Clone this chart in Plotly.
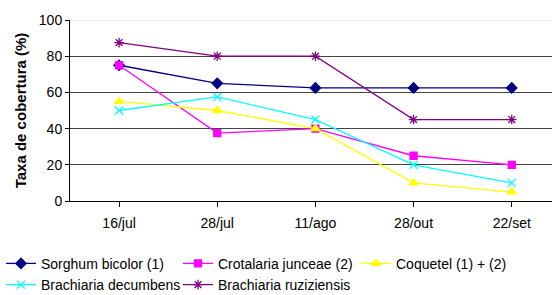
import plotly.graph_objects as go

categories = ["16/jul", "28/jul", "11/ago", "28/out", "22/set"]
sorghum = [75, 65, 62.5, 62.5, 62.5]
crotalaria = [75, 37.5, 40, 25, 20]
coquetel = [55, 50, 40, 10, 5]
decumbens = [50, 57.5, 45, 20, 10]
ruziziensis = [87.5, 80, 80, 45, 45]

series = [
    ("Sorghum bicolor (1)", sorghum, "#000080", "diamond", 8, "legend"),
    ("Crotalaria junceae (2)", crotalaria, "#FF00FF", "square", 7, "legend2"),
    ("Coquetel (1) + (2)", coquetel, "#FFFF00", "triangle-up", 8, "legend3"),
    ("Brachiaria decumbens", decumbens, "#00FFFF", "x-thin-open", 8, "legend"),
    ("Brachiaria ruziziensis", ruziziensis, "#800080", "asterisk-open", 8, "legend2"),
]

fig = go.Figure()
for name, vals, color, sym, size, leg in series:
    fig.add_trace(go.Scatter(
        x=list(range(len(categories))), y=vals, name=name, mode="lines+markers",
        line=dict(color=color, width=1.3),
        marker=dict(symbol=sym, size=size, color=color, line=dict(color=color, width=1.3)),
        legend=leg,
    ))

leg_common = dict(orientation="v", xref="paper", yref="container", y=0.16,
                  xanchor="left", yanchor="top", font=dict(size=14), itemwidth=30,
                  bgcolor="rgba(0,0,0,0)")

fig.update_layout(
    width=552, height=295,
    margin=dict(l=70, r=0, t=20, b=94),
    paper_bgcolor="white", plot_bgcolor="white",
    font=dict(family="Liberation Sans, Arial, sans-serif", size=14, color="black"),
    showlegend=True,
    legend=dict(x=-69 / 482, **leg_common),
    legend2=dict(x=108 / 482, **leg_common),
    legend3=dict(x=286 / 482, **leg_common),
    xaxis=dict(
        tickmode="array", tickvals=list(range(len(categories))), ticktext=categories,
        range=[-0.5, 4.41], showgrid=False, showline=True, linecolor="black", linewidth=1,
        zeroline=False, fixedrange=True, ticklabelstandoff=4,
    ),
    yaxis=dict(
        range=[0, 100], tickvals=[0, 20, 40, 60, 80, 100], showgrid=True,
        gridcolor="#444444", gridwidth=1, showline=True, linecolor="black", linewidth=1,
        ticks="outside", ticklen=4, tickcolor="black", zeroline=False,
        title=dict(text="<b>Taxa de cobertura (%)</b>", font=dict(size=15), standoff=8),
    ),
)
fig.update_xaxes(ticks="outside", tickson="boundaries", ticklen=5, tickcolor="black")
fig.add_shape(type="line", xref="paper", yref="y", x0=0, x1=1, y0=100, y1=100,
              line=dict(color="#DDDDDD", width=1), layer="above")

fig.write_html("out.html", config={"displayModeBar": False},
               post_script="document.body.style.margin='0';")
